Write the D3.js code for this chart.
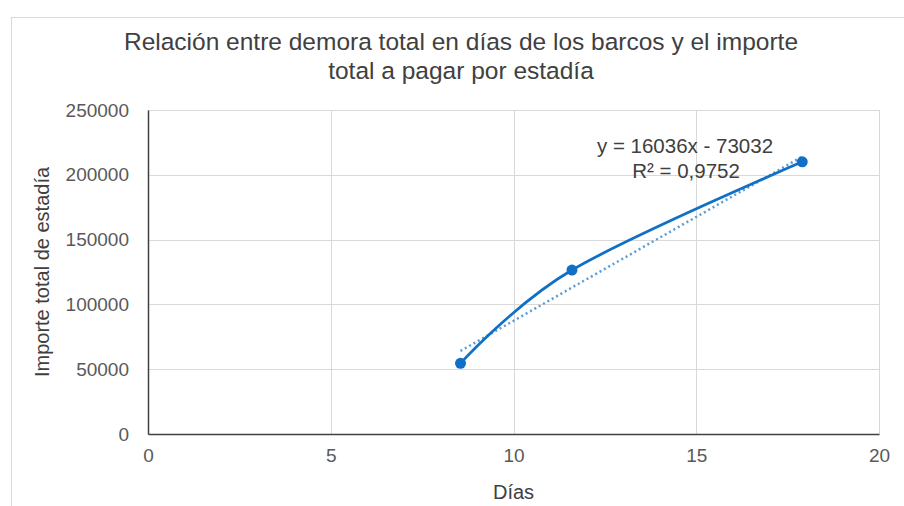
<!DOCTYPE html>
<html>
<head>
<meta charset="utf-8">
<script src="https://cdn.jsdelivr.net/npm/d3@7"></script>
<style>
  body { margin: 0; background: #fff; }
  text { font-family: "Liberation Sans", Arial, sans-serif; }
</style>
</head>
<body>
<script>
// values
const dias = [8.55, 11.6, 17.9]
const importe = [54500, 126500, 210000]
const xTicks = [0, 5, 10, 15, 20]
const yTicks = [0, 50000, 100000, 150000, 200000, 250000]
const trendSlope = 16036
const trendIntercept = -73032
const titleLines = ['Relación entre demora total en días de los barcos y el importe', 'total a pagar por estadía']

const margin = {top: 110, left: 148, right: 25, bottom: 72}
const W = 904, H = 506
const width = W - margin.left - margin.right
const height = H - margin.top - margin.bottom

const svg = d3.select('body').append('svg')
  .attr('width', W)
  .attr('height', H)

svg.append('rect')
  .attr('x', 11.5).attr('y', 17.5)
  .attr('width', 1000).attr('height', 1000)
  .attr('fill', 'none').attr('stroke', '#d9d9d9')

const g = svg.append('g')
  .attr('transform', `translate(${margin.left},${margin.top})`)

const x = d3.scaleLinear().domain([0, 20]).range([0, width])
const y = d3.scaleLinear().domain([0, 250000]).range([height, 0])

// grid
g.append('g').selectAll('line')
  .data(yTicks.slice(1))
  .join('line')
  .attr('x1', 0).attr('x2', width)
  .attr('y1', d => Math.round(y(d)) + 0.5).attr('y2', d => Math.round(y(d)) + 0.5)
  .attr('stroke', '#d9d9d9')
g.append('g').selectAll('line')
  .data(xTicks.slice(1))
  .join('line')
  .attr('y1', 0).attr('y2', height)
  .attr('x1', d => Math.round(x(d)) + 0.5).attr('x2', d => Math.round(x(d)) + 0.5)
  .attr('stroke', '#d9d9d9')

// axes
const xaxis = d3.axisBottom(x).tickValues(xTicks).tickSize(0).tickPadding(15)
const yaxis = d3.axisLeft(y).tickValues(yTicks).tickSize(0).tickPadding(19)
  .tickFormat(d3.format('d'))

const gx = g.append('g').attr('transform', `translate(0,${height})`).call(xaxis)
const gy = g.append('g').call(yaxis)
;[gx, gy].forEach(a => {
  a.select('.domain').attr('stroke', '#404040').attr('stroke-width', 1.5)
  a.selectAll('text').attr('font-size', 19).attr('fill', '#595959')
    .attr('font-family', '"Liberation Sans", Arial, sans-serif')
})

// trendline
const trend = [d3.min(dias), d3.max(dias)].map(d => [d, trendSlope * d + trendIntercept])
g.append('path')
  .attr('d', d3.line().x(d => x(d[0])).y(d => y(d[1]))(trend))
  .attr('fill', 'none')
  .attr('stroke', '#5b9bd5')
  .attr('stroke-width', 2.5)
  .attr('stroke-dasharray', '2 3')

// smoothed series
const pts = dias.map((d, i) => [d, importe[i]])
g.append('path')
  .attr('d', d3.line().x(d => x(d[0])).y(d => y(d[1])).curve(d3.curveCardinal.tension(0))(pts))
  .attr('fill', 'none')
  .attr('stroke', '#0f70c5')
  .attr('stroke-width', 2.75)

g.selectAll('circle')
  .data(pts)
  .join('circle')
  .attr('cx', d => x(d[0])).attr('cy', d => y(d[1]))
  .attr('r', 5.5)
  .attr('fill', '#0f70c5')

// equation label
const eq = g.append('text')
  .attr('text-anchor', 'middle')
  .attr('font-size', 20.5)
  .attr('fill', '#404040')
eq.append('tspan').attr('x', 537).attr('y', 43).text('y = 16036x - 73032')
eq.append('tspan').attr('x', 538).attr('y', 68).text('R² = 0,9752')

// title
const title = svg.append('text')
  .attr('text-anchor', 'middle')
  .attr('font-size', 24.5)
  .attr('fill', '#404040')
title.selectAll('tspan')
  .data(titleLines)
  .join('tspan')
  .attr('x', 461)
  .attr('y', (d, i) => 50 + i * 29)
  .text(d => d)

// axis titles
svg.append('text')
  .attr('x', margin.left + x(10)).attr('y', 499)
  .attr('text-anchor', 'middle')
  .attr('font-size', 20)
  .attr('fill', '#404040')
  .text('Días')

svg.append('text')
  .attr('transform', `translate(49,${margin.top + height / 2}) rotate(-90)`)
  .attr('text-anchor', 'middle')
  .attr('font-size', 20)
  .attr('fill', '#404040')
  .text('Importe total de estadía')
</script>
</body>
</html>
